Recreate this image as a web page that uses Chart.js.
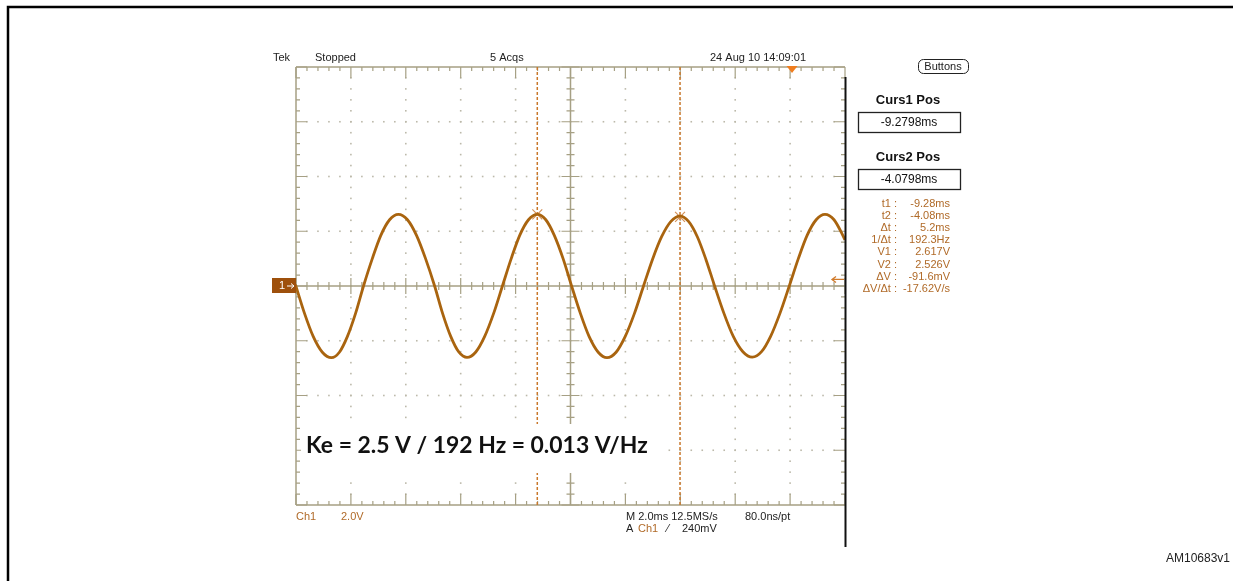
<!DOCTYPE html>
<html>
<head>
<meta charset="utf-8">
<script src="https://cdn.jsdelivr.net/npm/chart.js@4"></script>
<style>
html,body{margin:0;padding:0;background:#fff;}
canvas{display:block;}
</style>
</head>
<body>
<canvas id="c" width="1233" height="581"></canvas>
<script>
// ---- data ----
// time axis (ms), 2.0 ms/div, 10 divisions, trigger at t = 0
const timeRange = [-18.07, 1.93];
// vertical axis (V), 2.0 V/div, 8 divisions, ground at centre
const voltRange = [-8, 8];
const xDivisions = 10;
const yDivisions = 8;

// Ch1 trace samples (time in ms, voltage in V)
const waveT = [-18.09,-17.76,-17.44,-17.11,-16.78,-16.49,-16.20,-15.90,-15.61,-15.29,-14.98,-14.66,-14.34,-14.01,-13.68,-13.35,-13.02,-12.73,-12.43,-12.14,-11.84,-11.52,-11.20,-10.87,-10.55,-10.23,-9.92,-9.60,-9.28,-8.97,-8.66,-8.34,-8.03,-7.71,-7.39,-7.06,-6.74,-6.41,-6.08,-5.74,-5.41,-5.08,-4.75,-4.41,-4.08,-3.77,-3.45,-3.14,-2.82,-2.48,-2.14,-1.79,-1.45,-1.11,-0.78,-0.44,-0.10,0.23,0.55,0.88,1.20,1.53,1.85,1.93];
const waveV = [0.05,-1.00,-1.85,-2.42,-2.62,-2.42,-1.85,-1.00,0.00,1.00,1.85,2.42,2.62,2.42,1.85,1.00,0.00,-1.00,-1.85,-2.41,-2.61,-2.41,-1.85,-1.00,0.00,1.00,1.85,2.42,2.62,2.42,1.85,1.00,0.00,-1.00,-1.85,-2.42,-2.62,-2.42,-1.85,-1.00,0.00,0.98,1.80,2.36,2.55,2.36,1.80,0.98,0.00,-1.00,-1.84,-2.40,-2.60,-2.40,-1.84,-1.00,0.00,1.00,1.85,2.42,2.62,2.42,1.85,1.68];

// cursors
const cursorT = [-9.28, -4.08];
const cursorV = [2.617, 2.526];
const triggerT = 0;
const triggerLevel = 0.24;

// text
const headerTexts = ["Tek", "Stopped", "5 Acqs", "24 Aug 10 14:09:01"];
const cursorPanel = ["Curs1 Pos", "-9.2798ms", "Curs2 Pos", "-4.0798ms"];
const measLabels = ["t1 :", "t2 :", "\u0394t :", "1/\u0394t :", "V1 :", "V2 :", "\u0394V :", "\u0394V/\u0394t :"];
const measValues = ["-9.28ms", "-4.08ms", "5.2ms", "192.3Hz", "2.617V", "2.526V", "-91.6mV", "-17.62V/s"];
const keText = "Ke = 2.5 V / 192 Hz = 0.013 V/Hz";
const figId = "AM10683v1";

// ---- styling ----
const TRACE = '#a9640f';
const ORANGE = '#b06a28';
const GRAT = '#a6a084';
const DOT = '#bcb9aa';
const UI = "'Liberation Sans', Arial, sans-serif";

const wavePts = waveT.map((t, i) => ({x: t, y: waveV[i]}));
const cursorLines = cursorT.map(t => [{x: t, y: voltRange[0]}, {x: t, y: voltRange[1]}]);
const cursorMarks = cursorT.map((t, i) => ({x: t, y: cursorV[i]}));

const scopePlugin = {
  id: 'scope',
  beforeDraw(chart) {
    const ctx = chart.ctx;
    ctx.save();
    ctx.fillStyle = '#fff';
    ctx.fillRect(0, 0, chart.width, chart.height);
    // page frame
    ctx.strokeStyle = '#000';
    ctx.lineWidth = 2.5;
    ctx.beginPath();
    ctx.moveTo(8, 600);
    ctx.lineTo(8, 7);
    ctx.lineTo(1240, 7);
    ctx.stroke();
    ctx.restore();
  },
  beforeDatasetsDraw(chart) {
    const ctx = chart.ctx;
    const a = chart.chartArea;
    const dx = (a.right - a.left) / xDivisions;
    const dy = (a.bottom - a.top) / yDivisions;
    const sx = dx / 5, sy = dy / 5;
    const cx = (a.left + a.right) / 2;
    const cy = chart.scales.y.getPixelForValue(0);
    ctx.save();
    // dotted grid
    ctx.fillStyle = DOT;
    for (let i = 1; i < xDivisions; i++) {
      if (i === xDivisions / 2) continue;
      const x = a.left + i * dx;
      for (let k = 1; k < yDivisions * 5; k++) {
        ctx.fillRect(x - 0.8, a.top + k * sy - 0.8, 1.6, 1.6);
      }
    }
    for (let j = 1; j < yDivisions; j++) {
      if (j === yDivisions / 2) continue;
      const y = a.top + j * dy;
      for (let k = 1; k < xDivisions * 5; k++) {
        ctx.fillRect(a.left + k * sx - 0.8, y - 0.8, 1.6, 1.6);
      }
    }
    ctx.strokeStyle = GRAT;
    ctx.lineWidth = 1.5;
    // border
    ctx.beginPath();
    ctx.moveTo(a.left, a.top); ctx.lineTo(a.right, a.top);
    ctx.moveTo(a.left, a.top); ctx.lineTo(a.left, a.bottom);
    ctx.moveTo(a.left, a.bottom); ctx.lineTo(a.right, a.bottom);
    // centre cross
    ctx.moveTo(a.left, cy); ctx.lineTo(a.right, cy);
    ctx.moveTo(cx, a.top); ctx.lineTo(cx, a.bottom);
    ctx.stroke();
    ctx.lineWidth = 1.2;
    ctx.beginPath();
    for (let k = 0; k <= xDivisions * 5; k++) {
      const x = a.left + k * sx;
      const major = k % 5 === 0;
      const lb = major ? 11 : 4;
      ctx.moveTo(x, a.top); ctx.lineTo(x, a.top + lb);
      ctx.moveTo(x, a.bottom); ctx.lineTo(x, a.bottom - lb);
      const lc = major ? 8 : 4;
      ctx.moveTo(x, cy - lc); ctx.lineTo(x, cy + lc);
    }
    for (let k = 0; k <= yDivisions * 5; k++) {
      const y = a.top + k * sy;
      const major = k % 5 === 0;
      const lb = major ? 11 : 4;
      ctx.moveTo(a.left, y); ctx.lineTo(a.left + lb, y);
      ctx.moveTo(a.right, y); ctx.lineTo(a.right - lb, y);
      const lc = major ? 9 : 4;
      ctx.moveTo(cx - lc, y); ctx.lineTo(cx + lc, y);
    }
    ctx.stroke();
    ctx.restore();
  },
  afterDatasetsDraw(chart) {
    const ctx = chart.ctx;
    const a = chart.chartArea;
    const xs = chart.scales.x, ys = chart.scales.y;
    const cy = ys.getPixelForValue(0);
    ctx.save();
    // right black edge
    ctx.strokeStyle = '#111';
    ctx.lineWidth = 2;
    ctx.beginPath();
    ctx.moveTo(a.right + 0.5, a.top + 10);
    ctx.lineTo(a.right + 0.5, 547);
    ctx.stroke();

    // Ke annotation with white backing
    ctx.fillStyle = '#fff';
    ctx.fillRect(a.left + 5, 424, 365, 49);
    let fs = 24;
    ctx.font = `bold ${fs}px Lato, 'Open Sans', sans-serif`;
    const w = ctx.measureText(keText).width;
    fs = fs * 342 / w;
    ctx.font = `bold ${fs}px Lato, 'Open Sans', sans-serif`;
    ctx.fillStyle = '#111';
    ctx.textBaseline = 'middle';
    ctx.textAlign = 'left';
    ctx.fillText(keText, a.left + 10, 446);

    // trigger position marker
    const tx = xs.getPixelForValue(triggerT);
    ctx.fillStyle = '#f07d1e';
    ctx.beginPath();
    ctx.moveTo(tx - 5.5, a.top - 1);
    ctx.lineTo(tx + 5.5, a.top - 1);
    ctx.lineTo(tx, a.top + 6);
    ctx.closePath();
    ctx.fill();

    // trigger level arrow
    const ty = ys.getPixelForValue(triggerLevel);
    ctx.strokeStyle = '#d07a2a';
    ctx.lineWidth = 1.3;
    ctx.beginPath();
    ctx.moveTo(a.right - 1, ty); ctx.lineTo(a.right - 13, ty);
    ctx.moveTo(a.right - 9, ty - 3); ctx.lineTo(a.right - 13, ty); ctx.lineTo(a.right - 9, ty + 3);
    ctx.stroke();

    // channel 1 ground marker
    ctx.fillStyle = '#9e500c';
    ctx.fillRect(a.left - 24, cy - 8, 24, 15);
    ctx.fillStyle = '#fff';
    ctx.font = `11px ${UI}`;
    ctx.textAlign = 'left';
    ctx.fillText('1', a.left - 17, cy);
    ctx.strokeStyle = '#fff';
    ctx.lineWidth = 1;
    ctx.beginPath();
    ctx.moveTo(a.left - 9, cy); ctx.lineTo(a.left - 2, cy);
    ctx.moveTo(a.left - 5, cy - 2.5); ctx.lineTo(a.left - 2, cy); ctx.lineTo(a.left - 5, cy + 2.5);
    ctx.stroke();

    // header
    ctx.fillStyle = '#222';
    ctx.font = `11px ${UI}`;
    ctx.textBaseline = 'middle';
    ctx.fillText(headerTexts[0], 273, 58);
    ctx.fillText(headerTexts[1], 315, 58);
    ctx.fillText(headerTexts[2], 490, 58);
    ctx.fillText(headerTexts[3], 710, 58);

    // Buttons
    ctx.strokeStyle = '#222';
    ctx.lineWidth = 1;
    ctx.beginPath();
    ctx.roundRect(918.5, 59.5, 50, 14, 5);
    ctx.stroke();
    ctx.textAlign = 'center';
    ctx.fillText('Buttons', 943, 67);

    // cursor panel
    ctx.font = `bold 13px ${UI}`;
    ctx.fillStyle = '#111';
    ctx.fillText(cursorPanel[0], 908, 100);
    ctx.fillText(cursorPanel[2], 908, 157);
    ctx.lineWidth = 1.3;
    ctx.strokeRect(858.5, 112.5, 102, 20);
    ctx.strokeRect(858.5, 169.5, 102, 20);
    ctx.font = `12px ${UI}`;
    ctx.fillText(cursorPanel[1], 909, 122.5);
    ctx.fillText(cursorPanel[3], 909, 179.5);

    // measurements
    ctx.fillStyle = ORANGE;
    ctx.font = `11px ${UI}`;
    measLabels.forEach((lab, i) => {
      const y = 204 + i * 12.1;
      ctx.textAlign = 'right';
      ctx.fillText(lab, 897, y);
      ctx.fillText(measValues[i], 950, y);
    });

    // bottom
    ctx.textAlign = 'left';
    ctx.fillStyle = ORANGE;
    ctx.fillText('Ch1', 296, 517);
    ctx.fillText('2.0V', 341, 517);
    ctx.fillStyle = '#222';
    ctx.fillText('M 2.0ms 12.5MS/s', 626, 517);
    ctx.fillText('80.0ns/pt', 745, 517);
    ctx.fillText('A', 626, 529);
    ctx.fillStyle = ORANGE;
    ctx.fillText('Ch1', 638, 529);
    ctx.fillStyle = '#222';
    ctx.fillText('\u2044', 667, 529);
    ctx.fillText('240mV', 682, 529);

    // figure id
    ctx.font = `12px ${UI}`;
    ctx.textAlign = 'right';
    ctx.fillText(figId, 1230, 559);
    ctx.restore();
  }
};

new Chart(document.getElementById('c'), {
  type: 'scatter',
  data: {
    datasets: [
      {
        data: wavePts, showLine: true, borderColor: TRACE, borderWidth: 2.8,
        pointRadius: 0, cubicInterpolationMode: 'monotone', order: 0
      },
      {
        data: cursorLines[0], showLine: true, borderColor: '#c9782c', borderWidth: 1.5,
        borderDash: [3, 2], pointRadius: 0, order: 2
      },
      {
        data: cursorLines[1], showLine: true, borderColor: '#c9782c', borderWidth: 1.5,
        borderDash: [3, 2], pointRadius: 0, order: 2
      },
      {
        data: cursorMarks, showLine: false, pointStyle: 'crossRot', pointRadius: 7,
        borderColor: '#d4925a', borderWidth: 1.2, order: 1
      }
    ]
  },
  options: {
    responsive: false,
    animation: false,
    devicePixelRatio: 1,
    layout: { padding: { left: 296, top: 67, right: 388, bottom: 76 } },
    scales: {
      x: { type: 'linear', min: timeRange[0], max: timeRange[1], display: false },
      y: { type: 'linear', min: voltRange[0], max: voltRange[1], display: false }
    },
    plugins: { legend: { display: false }, tooltip: { enabled: false } },
    events: []
  },
  plugins: [scopePlugin]
});
</script>
</body>
</html>
